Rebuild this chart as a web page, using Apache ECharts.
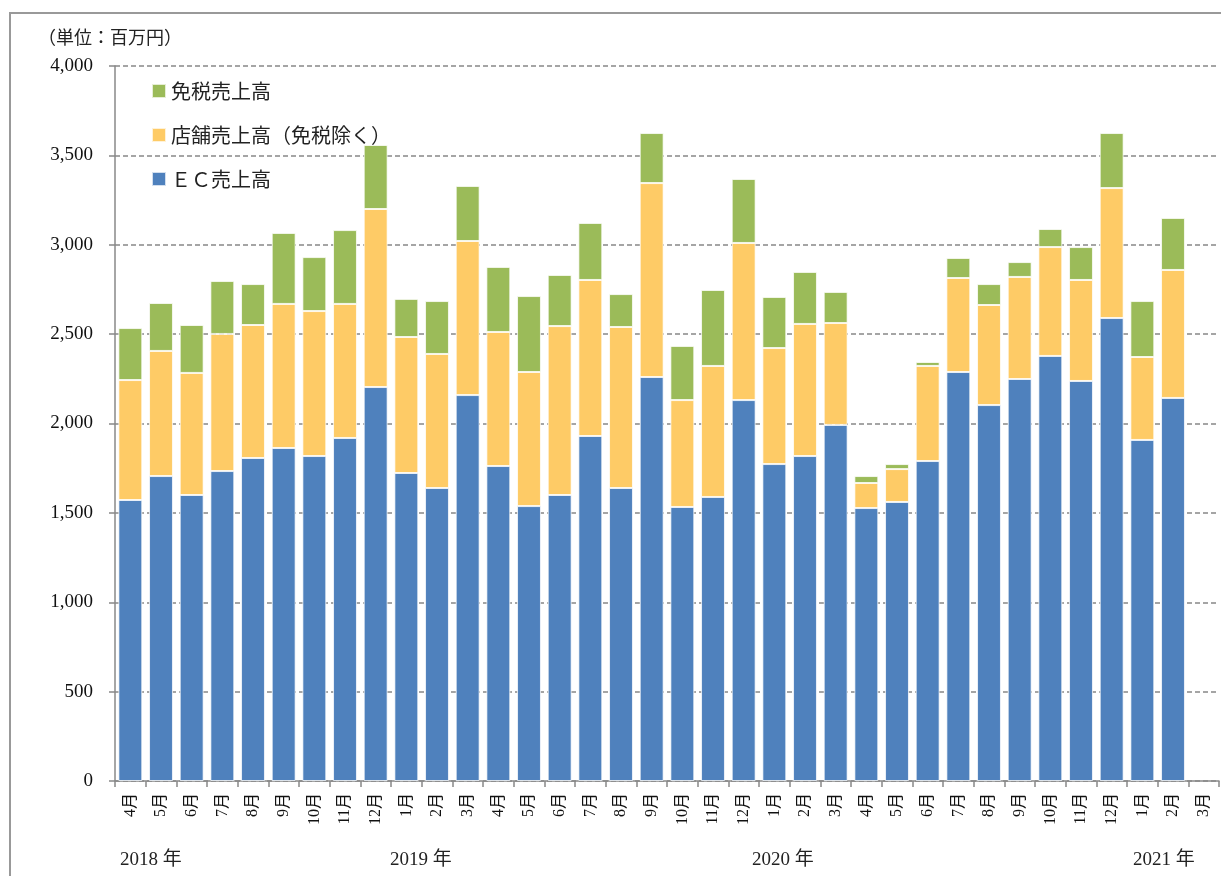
<!DOCTYPE html>
<html>
<head>
<meta charset="utf-8">
<script src="https://cdn.jsdelivr.net/npm/echarts@6.0.0/dist/echarts.min.js"></script>
<style>
html,body{margin:0;padding:0;background:#fff;}
#chart{width:1221px;height:876px;}
</style>
</head>
<body>
<div id="chart"></div>
<script>
// ---- data (百万円) ----
var months = ['4月','5月','6月','7月','8月','9月','10月','11月','12月',
  '1月','2月','3月','4月','5月','6月','7月','8月','9月','10月','11月','12月',
  '1月','2月','3月','4月','5月','6月','7月','8月','9月','10月','11月','12月',
  '1月','2月','3月'];
var years = ['2018 年','2019 年','2020 年','2021 年'];
var seriesNames = ['免税売上高','店舗売上高（免税除く）','ＥＣ売上高'];
var ecSales = [1572,1706,1600,1734,1807,1863,1818,1919,2204,
  1723,1639,2159,1762,1538,1600,1930,1639,2260,1533,1589,2131,
  1773,1818,1992,1527,1561,1790,2288,2103,2249,2378,2238,2590,
  1908,2143,null];
var storeSales = [671,700,683,767,744,806,811,750,996,
  761,750,862,750,750,945,873,901,1085,598,733,879,
  649,739,570,140,184,532,526,560,571,609,565,727,
  464,716,null];
var taxFreeSales = [291,268,268,296,229,397,302,413,358,
  213,296,308,364,425,286,319,184,280,303,425,358,
  286,291,174,39,28,22,112,117,83,101,184,308,
  313,291,null];
var yTicks = {min:0, max:4000, interval:500};
var unitLabel = '（単位：百万円）';

var serif = '"Liberation Serif","DejaVu Serif","Noto Sans CJK JP",serif';
var chart = echarts.init(document.getElementById('chart'));
var border = {borderColor:'rgba(255,255,255,0.75)', borderWidth:1};
chart.setOption({
  backgroundColor:'#fff',
  animation:false,
  textStyle:{fontFamily:serif},
  grid:{left:115, right:2, top:66, bottom:95, containLabel:false},
  legend:{
    orient:'vertical', left:146, top:76,
    itemWidth:14, itemHeight:14, itemGap:24,
    icon:'rect',
    data:[seriesNames[0], seriesNames[1], seriesNames[2]],
    textStyle:{fontSize:20, lineHeight:20, color:'#222', fontFamily:'"Noto Sans CJK JP",sans-serif'}
  },
  xAxis:{
    type:'category', data:months,
    axisLine:{lineStyle:{color:'#888', width:1.5}},
    axisTick:{show:true, interval:0, length:6, lineStyle:{color:'#888', width:1.5}},
    axisLabel:{interval:0, rotate:90, fontSize:16, color:'#111', margin:12,
      fontFamily:'"Liberation Serif","Noto Sans CJK JP",serif'}
  },
  yAxis:{
    type:'value', min:yTicks.min, max:yTicks.max, interval:yTicks.interval,
    axisLine:{show:true, lineStyle:{color:'#888', width:1.5}},
    axisTick:{show:true, length:6, lineStyle:{color:'#888', width:1.5}},
    axisLabel:{fontSize:19, color:'#111', margin:22,
      formatter:function(v){return v.toLocaleString('en-US');}},
    splitLine:{show:true, lineStyle:{color:'#888', width:1.5, type:[5,3]}}
  },
  series:[
    {name:seriesNames[2], type:'bar', stack:'s', data:ecSales, barCategoryGap:'22%',
      itemStyle:Object.assign({color:'#4F81BD'}, border)},
    {name:seriesNames[1], type:'bar', stack:'s', data:storeSales,
      itemStyle:Object.assign({color:'#FECB66'}, border)},
    {name:seriesNames[0], type:'bar', stack:'s', data:taxFreeSales,
      itemStyle:Object.assign({color:'#9BBB59'}, border)}
  ],
  graphic:[
    {type:'rect', silent:true, shape:{x:10, y:13, width:1300, height:1000},
      style:{fill:'none', stroke:'#999', lineWidth:2}},
    {type:'text', left:38, top:28, style:{text:unitLabel, fontSize:18, fill:'#222',
      fontFamily:'"Noto Sans CJK JP",sans-serif'}},
    {type:'text', left:120, top:851, style:{text:years[0], fontSize:19, fill:'#222', fontFamily:serif}},
    {type:'text', left:390, top:851, style:{text:years[1], fontSize:19, fill:'#222', fontFamily:serif}},
    {type:'text', left:752, top:851, style:{text:years[2], fontSize:19, fill:'#222', fontFamily:serif}},
    {type:'text', left:1133, top:851, style:{text:years[3], fontSize:19, fill:'#222', fontFamily:serif}}
  ]
});
</script>
</body>
</html>
